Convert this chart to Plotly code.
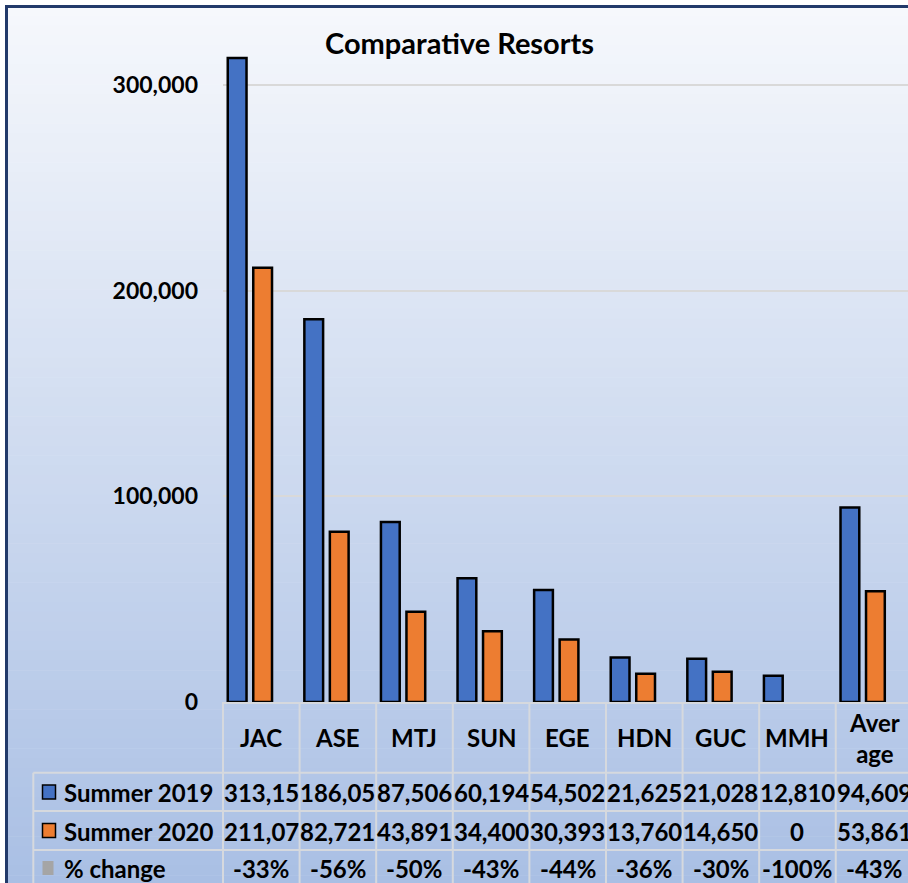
import plotly.graph_objects as go

categories = ["JAC", "ASE", "MTJ", "SUN", "EGE", "HDN", "GUC", "MMH", "Average"]
header_labels = ["JAC", "ASE", "MTJ", "SUN", "EGE", "HDN", "GUC", "MMH", "Aver<br>age"]
summer_2019 = [313150, 186050, 87506, 60194, 54502, 21625, 21028, 12810, 94609]
summer_2020 = [211070, 82721, 43891, 34400, 30393, 13760, 14650, 0, 53861]
series_names = ["Summer 2019", "Summer 2020", "% change"]
y_ticks = [0, 100000, 200000, 300000]

BLUE = "#4472c4"
ORANGE = "#ed7d31"
GRAY = "#a5a5a5"
FONT = "Lato"

W, H = 908, 883
PL, PR, PT, PB = 223, 908, 50, 702


def px(x):
    return (x - PL) / (PR - PL)


def py(y):
    return (PB - y) / (PB - PT)


pct_change = [(b - a) / a * 100 if a else 0 for a, b in zip(summer_2019, summer_2020)]


def cell(v):
    return f"{v:,}"[:6]


fig = go.Figure()
fig.add_trace(go.Bar(
    x=categories, y=summer_2019, name=series_names[0],
    marker=dict(color=BLUE, line=dict(color="black",
                                      width=[2.5 if v else 0 for v in summer_2019])),
    offset=-0.438, width=0.245,
))
fig.add_trace(go.Bar(
    x=categories, y=summer_2020, name=series_names[1],
    marker=dict(color=ORANGE, line=dict(color="black",
                                        width=[2.5 if v else 0 for v in summer_2020])),
    offset=-0.105, width=0.245,
))

shapes = []
# gradient background
n = 90
top_c = (0xf6, 0xf8, 0xfc)
bot_c = (0xa9, 0xbf, 0xe4)
y_start, y_end = 6, H + 2
for i in range(n):
    t = (i + 0.5) / n
    c = tuple(round(top_c[k] + (bot_c[k] - top_c[k]) * t) for k in range(3))
    y0 = y_start + (y_end - y_start) * i / n
    y1 = y_start + (y_end - y_start) * (i + 1) / n + 0.6
    shapes.append(dict(type="rect", xref="paper", yref="paper", layer="below",
                       x0=px(6), x1=px(W + 5), y0=py(y0), y1=py(y1),
                       fillcolor="rgb(%d,%d,%d)" % c, line=dict(width=0)))
# outer border
shapes.append(dict(type="rect", xref="paper", yref="paper", layer="above",
                   x0=px(6.5), x1=px(W + 10), y0=py(6.5), y1=py(H + 10),
                   line=dict(color="#223a6a", width=3), fillcolor="rgba(0,0,0,0)"))

LINE = dict(color="#d6d9de", width=2)
# table horizontal lines
for yy in [772.7, 811, 850]:
    shapes.append(dict(type="line", xref="paper", yref="paper", layer="above",
                       x0=px(33.3), x1=px(W + 5), y0=py(yy), y1=py(yy), line=LINE))
# left border of row-label column
shapes.append(dict(type="line", xref="paper", yref="paper", layer="above",
                   x0=px(33.3), x1=px(33.3), y0=py(772.7), y1=py(H + 5), line=LINE))
# vertical cell lines
for i in range(1, len(categories)):
    shapes.append(dict(type="line", xref="x", yref="paper", layer="above",
                       x0=i - 0.5, x1=i - 0.5, y0=0, y1=py(H + 5), line=LINE))
shapes.append(dict(type="line", xref="paper", yref="paper", layer="above",
                   x0=0, x1=0, y0=0, y1=py(H + 5), line=LINE))
# legend keys
shapes.append(dict(type="rect", xref="paper", yref="paper", layer="above",
                   x0=px(42.5), x1=px(55.5), y0=py(785), y1=py(799),
                   fillcolor=BLUE, line=dict(color="black", width=1.5)))
shapes.append(dict(type="rect", xref="paper", yref="paper", layer="above",
                   x0=px(42.5), x1=px(55.5), y0=py(823.5), y1=py(837.5),
                   fillcolor=ORANGE, line=dict(color="black", width=1.5)))
shapes.append(dict(type="rect", xref="paper", yref="paper", layer="above",
                   x0=px(42.5), x1=px(53.5), y0=py(861), y1=py(875),
                   fillcolor=GRAY, line=dict(width=0)))

annotations = []
annotations.append(dict(text="Comparative Resorts", xref="paper", yref="paper",
                        x=px(459), y=py(42), xanchor="center", yanchor="middle",
                        showarrow=False,
                        font=dict(family=FONT, size=29, color="black", weight="bold")))
tf = dict(family=FONT, size=24, color="black", weight="bold")
for i, lab in enumerate(header_labels):
    annotations.append(dict(text=lab, xref="x", yref="paper", x=i, y=py(738),
                            xanchor="center", yanchor="middle", showarrow=False, font=tf,
                            align="center"))
row_y = [792, 831, 868]
for name, yy in zip(series_names, row_y):
    annotations.append(dict(text=name, xref="paper", yref="paper",
                            x=px(62), y=py(yy), xanchor="left", yanchor="middle",
                            showarrow=False, font=tf))
for i in range(len(categories)):
    annotations.append(dict(text=cell(summer_2019[i]), xref="x", yref="paper",
                            x=i, y=py(row_y[0]), xanchor="center", yanchor="middle",
                            showarrow=False, font=tf))
    annotations.append(dict(text=cell(summer_2020[i]), xref="x", yref="paper",
                            x=i, y=py(row_y[1]), xanchor="center", yanchor="middle",
                            showarrow=False, font=tf))
    annotations.append(dict(text="%d%%" % round(pct_change[i]), xref="x", yref="paper",
                            x=i, y=py(row_y[2]), xanchor="center", yanchor="middle",
                            showarrow=False, font=tf))

fig.update_layout(
    width=W, height=H,
    margin=dict(l=PL, r=W - PR, t=PT, b=H - PB, pad=0),
    paper_bgcolor="white", plot_bgcolor="rgba(0,0,0,0)",
    showlegend=False,
    barmode="group",
    shapes=shapes,
    annotations=annotations,
    xaxis=dict(range=[-0.5, 8.443], showticklabels=False, ticks="", showgrid=False,
               showline=True, linecolor="#d6d9de", linewidth=2, zeroline=False,
               fixedrange=True),
    yaxis=dict(range=[0, 317000], tickvals=y_ticks, tickformat=",d", ticks="",
               showgrid=True, gridcolor="#d9d9d9", gridwidth=1.5, zeroline=False,
               showline=False, ticklabelstandoff=24,
               tickfont=dict(family=FONT, size=23, color="black", weight="bold"),
               fixedrange=True),
    font=dict(family=FONT, color="black"),
)

fig.write_html("out.html", config={"displayModeBar": False},
               post_script="document.body.style.margin='0';document.body.style.overflow='hidden';")
